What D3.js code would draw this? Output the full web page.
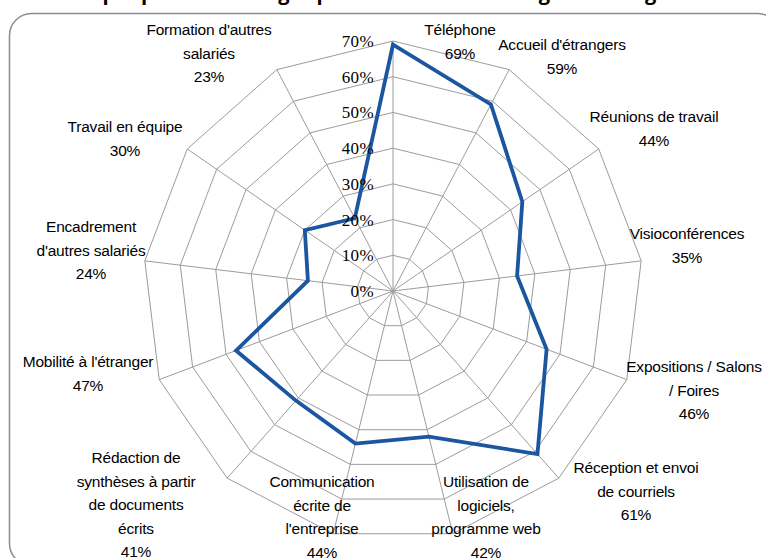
<!DOCTYPE html>
<html>

<head>
  <meta charset="UTF-8">
  <title></title>
  <style>
    body{
      margin: 0;
      background: #fff;
      font-family: 'Liberation Sans', Arial, sans-serif;
    }
    .grid{
      fill: none;
      stroke: #9c9c9c;
      stroke-width: 1;
    }
    .tick{
      font-family: 'Liberation Serif', 'Times New Roman', serif;
      font-size: 17px;
      letter-spacing: 0.4px;
      text-anchor: end;
      fill: #000;
    }
    .cat{
      font-size: 15.5px;
      letter-spacing: -0.2px;
      text-anchor: middle;
      fill: #000;
    }
    .title{
      font-family: 'Open Sans', sans-serif;
      font-weight: bold;
      font-size: 20px;
    }
  </style>
</head>

<body>
  <script src="https://d3js.org/d3.v7.min.js"></script>
  <script>
    var categories = ["Téléphone", "Accueil d'étrangers", "Réunions de travail", "Visioconférences",
      "Expositions / Salons / Foires", "Réception et envoi de courriels", "Utilisation de logiciels, programme web",
      "Communication écrite de l'entreprise", "Rédaction de synthèses à partir de documents écrits",
      "Mobilité à l'étranger", "Encadrement d'autres salariés", "Travail en équipe", "Formation d'autres salariés"];
    var values = [69, 59, 44, 35, 46, 61, 42, 44, 41, 47, 24, 30, 23];
    var tickValues = [0, 10, 20, 30, 40, 50, 60, 70];

    // label lines as they wrap in the picture, and where each block sits
    var labelLines = [
      ["Téléphone"], ["Accueil d'étrangers"], ["Réunions de travail"], ["Visioconférences"],
      ["Expositions / Salons", "/ Foires"], ["Réception et envoi", "de courriels"],
      ["Utilisation de", "logiciels,", "programme web"], ["Communication", "écrite de", "l'entreprise"],
      ["Rédaction de", "synthèses à partir", "de documents", "écrits"], ["Mobilité à l'étranger"],
      ["Encadrement", "d'autres salariés"], ["Travail en équipe"], ["Formation d'autres", "salariés"]];
    var labelPos = [[460, 35], [562, 50], [654, 122], [687, 239], [694, 372], [636, 473], [486, 487],
      [322, 487], [136, 463], [88, 367], [91, 232], [125, 132], [209, 35]];

    var width = 766, height = 558;
    var cx = 393, cy = 291;

    var svg = d3.select("body").append("svg")
        .attr("width", width)
        .attr("height", height);

    svg.append("text")
        .attr("class", "title")
        .attr("x", 383)
        .attr("y", 0)
        .attr("text-anchor", "middle")
        .text("Graphique 4 : Les usages professionnels des langues étrangères");

    svg.append("rect")
        .attr("x", 9.5)
        .attr("y", 13.5)
        .attr("width", 770)
        .attr("height", 552)
        .attr("rx", 22)
        .attr("fill", "none")
        .attr("stroke", "#8c8c8c")
        .attr("stroke-width", 1.5);

    var r = d3.scaleLinear().domain([0, 70]).range([0, 250]);
    var angle = d3.scaleLinear().domain([0, categories.length]).range([0, 2 * Math.PI]);

    function pt(i, v) {
      var a = angle(i);
      return [cx + r(v) * Math.sin(a), cy - r(v) * Math.cos(a)];
    }

    var g = svg.append("g");

    // rings
    g.selectAll("path.ring")
      .data(tickValues.slice(1))
      .enter().append("path")
        .attr("class", "grid ring")
        .attr("d", function(t) {
          return d3.line()(categories.map(function(c, i) { return pt(i, t); })) + "Z";
        });

    // spokes
    g.selectAll("line.spoke")
      .data(categories)
      .enter().append("line")
        .attr("class", "grid spoke")
        .attr("x1", cx).attr("y1", cy)
        .attr("x2", function(d, i) { return pt(i, 70)[0]; })
        .attr("y2", function(d, i) { return pt(i, 70)[1]; });

    // series
    g.append("path")
        .attr("d", d3.line()(values.map(function(v, i) { return pt(i, v); })) + "Z")
        .attr("fill", "none")
        .attr("stroke", "#1b56a0")
        .attr("stroke-width", 3.8)
        .attr("stroke-linejoin", "miter");

    // radial axis labels
    g.selectAll("text.tick")
      .data(tickValues)
      .enter().append("text")
        .attr("class", "tick")
        .attr("x", cx - 19)
        .attr("y", function(t) { return cy - r(t); })
        .attr("dy", "0.35em")
        .text(function(t) { return t + "%"; });

    // category labels
    var lab = g.selectAll("text.cat")
      .data(categories)
      .enter().append("text")
        .attr("class", "cat")
        .attr("x", function(d, i) { return labelPos[i][0]; })
        .attr("y", function(d, i) { return labelPos[i][1]; });

    lab.each(function(d, i) {
      var t = d3.select(this);
      var lines = labelLines[i].concat([values[i] + "%"]);
      lines.forEach(function(s, k) {
        t.append("tspan")
          .attr("x", labelPos[i][0])
          .attr("dy", k === 0 ? 0 : 23.5)
          .text(s);
      });
    });
  </script>
</body>
</html>
